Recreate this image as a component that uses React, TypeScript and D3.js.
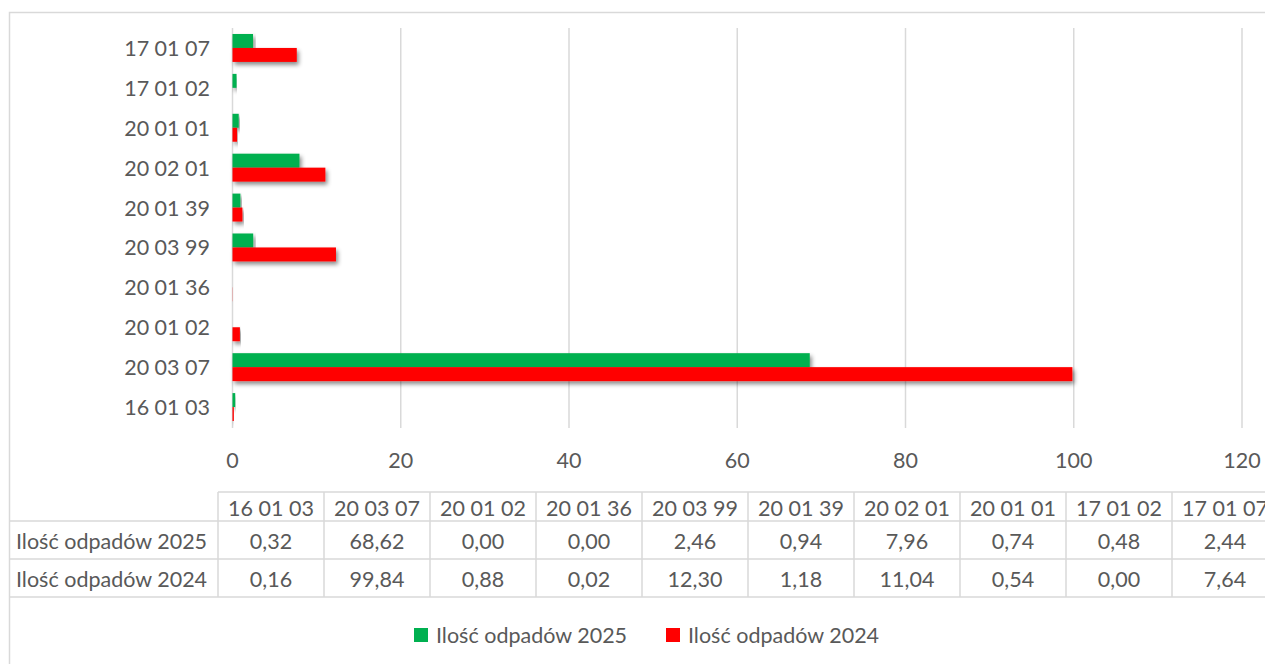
import { scaleBand, scaleLinear } from "d3";

const categories = ["16 01 03", "20 03 07", "20 01 02", "20 01 36", "20 03 99", "20 01 39", "20 02 01", "20 01 01", "17 01 02", "17 01 07"];
const values2025 = [0.32, 68.62, 0.0, 0.0, 2.46, 0.94, 7.96, 0.74, 0.48, 2.44];
const values2024 = [0.16, 99.84, 0.88, 0.02, 12.3, 1.18, 11.04, 0.54, 0.0, 7.64];
const seriesNames = ["Ilość odpadów 2025", "Ilość odpadów 2024"];
const seriesColors = ["#00b050", "#ff0000"];
const xTicks = [0, 20, 40, 60, 80, 100, 120];

const W = 1265;
const H = 664;
const font = "Lato, 'Open Sans', sans-serif";
const fontSize = 21.5;
const textColor = "#595959";
const gridColor = "#d9d9d9";

const fmt = (v: number) => v.toFixed(2).replace(".", ",");

const App = () => {
  const series = [values2025, values2024];

  const xScale = scaleLinear().domain([0, 120]).range([232.5, 1242]);

  // Excel puts the first category at the bottom
  const yScale = scaleBand()
    .domain([...categories].reverse())
    .range([28, 427])
    .paddingInner(0.3)
    .paddingOuter(0.15);

  const inner = scaleBand().domain(["0", "1"]).range([0, yScale.bandwidth()]);

  const colScale = scaleBand().domain(categories).range([218, 218 + 106 * categories.length]);

  const rowTop = [492, 521, 559, 597];

  return (
    <>
      <style>{"body{margin:0}"}</style>
      <svg width={W} height={H} style={{ display: "block", fontFamily: font }}>
        <defs>
          <filter id="shadow" x="-5%" y="-40%" width="115%" height="200%">
            <feDropShadow dx="2" dy="3" stdDeviation="2" floodColor="#000" floodOpacity="0.45" />
          </filter>
        </defs>
        <rect x={0} y={0} width={W} height={H} fill="#fff" />
        <rect x={9.5} y={12.5} width={W + 20} height={H + 20} fill="none" stroke={gridColor} strokeWidth={1.5} />

        {xTicks.map((t) => (
          <g key={`tick-${t}`}>
            <line x1={xScale(t)} x2={xScale(t)} y1={28} y2={428} stroke={gridColor} strokeWidth={1.5} />
            <text x={xScale(t)} y={460} textAnchor="middle" dominantBaseline="central" fontSize={fontSize} fill={textColor}>
              {t}
            </text>
          </g>
        ))}

        {categories.map((c, i) => (
          <g key={`cat-${c}`}>
            <text
              x={210}
              y={yScale(c)! + yScale.bandwidth() / 2}
              textAnchor="end"
              dominantBaseline="central"
              fontSize={fontSize}
              fill={textColor}
            >
              {c}
            </text>
            {series.map((vals, s) => (
              <rect
                key={`bar-${c}-${s}`}
                x={xScale(0)}
                y={yScale(c)! + inner(String(s))!}
                width={Math.max(0, xScale(vals[i]) - xScale(0))}
                height={inner.bandwidth()}
                fill={seriesColors[s]}
                filter={vals[i] > 0 ? "url(#shadow)" : undefined}
              />
            ))}
          </g>
        ))}

        {/* data table */}
        <g stroke={gridColor} strokeWidth={1.5} fill="none">
          <line x1={218} x2={W + 20} y1={rowTop[0]} y2={rowTop[0]} />
          {rowTop.slice(1).map((y) => (
            <line key={`row-${y}`} x1={9} x2={W + 20} y1={y} y2={y} />
          ))}
          {categories.map((c) => (
            <line key={`col-${c}`} x1={colScale(c)} x2={colScale(c)} y1={rowTop[0]} y2={rowTop[3]} />
          ))}
        </g>
        {categories.map((c, i) => (
          <g key={`cell-${c}`} textAnchor="middle" dominantBaseline="central" fontSize={fontSize} fill={textColor}>
            <text x={colScale(c)! + colScale.bandwidth() / 2} y={(rowTop[0] + rowTop[1]) / 2 + 1}>
              {c}
            </text>
            {series.map((vals, s) => (
              <text key={`val-${c}-${s}`} x={colScale(c)! + colScale.bandwidth() / 2} y={(rowTop[s + 1] + rowTop[s + 2]) / 2 + 1}>
                {fmt(vals[i])}
              </text>
            ))}
          </g>
        ))}
        {seriesNames.map((n, s) => (
          <text key={`rowlabel-${s}`} x={16} y={(rowTop[s + 1] + rowTop[s + 2]) / 2 + 1} dominantBaseline="central" fontSize={fontSize} fill={textColor}>
            {n}
          </text>
        ))}

        {/* legend */}
        {seriesNames.map((n, s) => {
          const lx = [414, 666][s];
          return (
            <g key={`legend-${s}`}>
              <rect x={lx} y={628} width={14} height={14} fill={seriesColors[s]} />
              <text x={lx + 22} y={635} dominantBaseline="central" fontSize={fontSize} fill={textColor}>
                {n}
              </text>
            </g>
          );
        })}
      </svg>
    </>
  );
};

export default App;
